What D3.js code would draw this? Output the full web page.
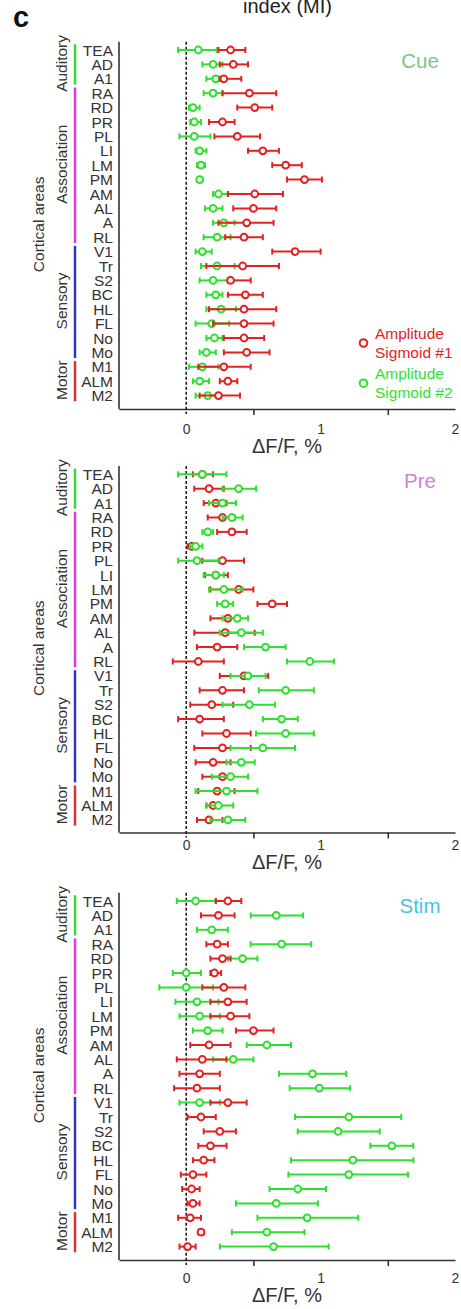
<!DOCTYPE html>
<html>
<head>
<meta charset="utf-8">
<script src="https://cdn.jsdelivr.net/npm/d3@7/dist/d3.min.js"></script>
<style>
  html, body { margin: 0; padding: 0; background: #fff; }
  svg { display: block; font-family: "Liberation Sans", Arial, sans-serif; }
</style>
</head>
<body>
<svg id="chart" width="461" height="1309"></svg>
<script>
// Cortical areas, top to bottom
const areas = ["TEA","AD","A1","RA","RD","PR","PL","LI","LM","PM","AM","AL","A","RL",
               "V1","Tr","S2","BC","HL","FL","No","Mo","M1","ALM","M2"];

// Functional groups of areas
const groupNames  = ["Auditory","Association","Sensory","Motor"];
const groupFirst  = ["TEA","RA","V1","M1"];
const groupLast   = ["A1","RL","Mo","M2"];
const groupColors = ["#35dc35","#e636e6","#3434c4","#d83434"];

const xTicks = [0, 1, 2];
const xMinorTicks = [0.5, 1.5];

// [mean, lower, upper] ΔF/F (%) per area
const cueSig1 = [[0.33,0.24,0.44],[0.35,0.25,0.46],[0.28,0.25,0.41],[0.47,0.27,0.67],[0.51,0.38,0.64],
  [0.27,0.17,0.36],[0.38,0.21,0.55],[0.57,0.46,0.69],[0.74,0.64,0.86],[0.88,0.75,1.01],
  [0.51,0.31,0.72],[0.50,0.35,0.67],[0.45,0.24,0.65],[0.43,0.29,0.57],[0.81,0.64,1.00],
  [0.42,0.15,0.69],[0.33,0.31,0.48],[0.44,0.31,0.57],[0.43,0.17,0.67],[0.43,0.20,0.65],
  [0.43,0.28,0.58],[0.45,0.28,0.62],[0.28,0.09,0.48],[0.31,0.25,0.38],[0.24,0.10,0.40]];
const cueSig2 = [[0.09,-0.06,0.23],[0.20,0.12,0.27],[0.22,0.15,0.29],[0.20,0.13,0.27],[0.05,0.02,0.10],
  [0.06,0.03,0.11],[0.06,-0.05,0.18],[0.10,0.07,0.15],[0.11,0.08,0.14],[0.10,0.09,0.12],
  [0.24,0.20,0.31],[0.20,0.14,0.27],[0.28,0.20,0.36],[0.23,0.13,0.33],[0.12,0.07,0.19],
  [0.23,0.11,0.36],[0.20,0.10,0.31],[0.22,0.15,0.27],[0.26,0.15,0.37],[0.19,0.07,0.32],
  [0.21,0.15,0.27],[0.15,0.10,0.22],[0.12,0.02,0.24],[0.10,0.05,0.17],[0.16,0.07,0.23]];

const preSig1 = [[0.12,0.05,0.20],[0.17,0.06,0.28],[0.22,0.13,0.30],[0.27,0.16,0.36],[0.34,0.23,0.45],
  [0.04,0.01,0.07],[0.27,0.12,0.43],[0.22,0.14,0.31],[0.39,0.18,0.50],[0.64,0.53,0.75],
  [0.31,0.18,0.40],[0.29,0.06,0.51],[0.23,0.08,0.38],[0.09,-0.10,0.28],[0.43,0.25,0.61],
  [0.27,0.10,0.43],[0.19,0.03,0.35],[0.10,-0.06,0.28],[0.30,0.12,0.48],[0.27,0.06,0.48],
  [0.20,0.07,0.33],[0.27,0.12,0.33],[0.23,0.09,0.36],[0.20,0.15,0.23],[0.17,0.08,0.27]];
const preSig2 = [[0.12,-0.06,0.30],[0.39,0.27,0.52],[0.27,0.17,0.37],[0.34,0.27,0.42],[0.16,0.12,0.20],
  [0.07,0.03,0.12],[0.08,-0.06,0.24],[0.22,0.13,0.28],[0.28,0.17,0.42],[0.29,0.23,0.35],
  [0.38,0.27,0.46],[0.41,0.25,0.57],[0.59,0.43,0.74],[0.92,0.75,1.10],[0.46,0.33,0.59],
  [0.74,0.54,0.95],[0.47,0.27,0.66],[0.71,0.57,0.83],[0.74,0.52,0.95],[0.57,0.33,0.81],
  [0.41,0.30,0.51],[0.33,0.19,0.46],[0.30,0.07,0.53],[0.24,0.15,0.35],[0.31,0.18,0.44]];

const stimSig1 = [[0.31,0.22,0.41],[0.24,0.11,0.36],null,[0.23,0.15,0.31],[0.27,0.18,0.33],
  [0.21,0.18,0.26],[0.28,0.12,0.44],[0.31,0.18,0.45],[0.33,0.18,0.47],[0.50,0.37,0.65],
  [0.17,0.03,0.33],[0.12,-0.07,0.30],[0.10,-0.05,0.25],[0.08,-0.09,0.25],[0.31,0.18,0.45],
  [0.11,0.01,0.22],[0.25,0.13,0.37],[0.18,0.09,0.30],[0.13,0.05,0.21],[0.05,-0.04,0.15],
  [0.04,-0.03,0.10],[0.05,0.01,0.10],[0.03,-0.06,0.11],[0.11,0.09,0.13],[0.01,-0.05,0.07]];
const stimSig2 = [[0.07,-0.07,0.22],[0.67,0.48,0.87],[0.19,0.08,0.31],[0.71,0.48,0.93],[0.42,0.31,0.53],
  [0.00,-0.10,0.11],[0.00,-0.20,0.20],[0.08,-0.08,0.24],[0.10,-0.05,0.25],[0.16,0.05,0.27],
  [0.60,0.45,0.78],[0.35,0.20,0.50],[0.94,0.69,1.19],[0.99,0.77,1.22],[0.10,-0.05,0.25],
  [1.21,0.81,1.60],[1.13,0.83,1.44],[1.53,1.37,1.69],[1.24,0.78,1.69],[1.21,0.76,1.65],
  [0.83,0.62,1.04],[0.67,0.37,0.98],[0.90,0.53,1.28],[0.60,0.34,0.88],[0.65,0.25,1.06]];

const red = "#e22222";
const green = "#30df30";
const axisColor = "#333";

// Panel layout: row of first area, axis position, label baselines
const panels = [
  { title: "Cue",  titleColor: "#7cc67c", s1: cueSig1,  s2: cueSig2,  top: 50,    axisY: 409,   tickBase: 433.5, xTitleBase: 452.5, titleBase: 67.7,  redOnTop: true,  legend: true },
  { title: "Pre",  titleColor: "#d47fd4", s1: preSig1,  s2: preSig2,  top: 474.3, axisY: 832.5, tickBase: 850,   xTitleBase: 868.5, titleBase: 488.3, redOnTop: false, legend: false },
  { title: "Stim", titleColor: "#4cbfe0", s1: stimSig1, s2: stimSig2, top: 901,   axisY: 1260,  tickBase: 1283,  xTitleBase: 1302,  titleBase: 913.3, redOnTop: true,  legend: false }
];

const svg = d3.select("#chart");
svg.append("rect").attr("width", 461).attr("height", 1309).attr("fill", "#fff");

const x = d3.scaleLinear().domain([-0.5, 2]).range([119, 455]);
const rowStep = 14.4;

// Figure header
svg.append("text").attr("x", 287.5).attr("y", 13).attr("text-anchor", "middle")
  .attr("font-size", 20).attr("fill", "#222").text("index (MI)");
svg.append("text").attr("x", 13).attr("y", 27).attr("font-size", 29).attr("font-weight", "bold")
  .attr("fill", "#111").text("c");

panels.forEach(p => {
  const y = d3.scalePoint().domain(areas).range([p.top, p.top + rowStep * (areas.length - 1)]);
  const g = svg.append("g");
  const yTop = p.top - 8.3;

  // Area labels
  g.append("g").selectAll("text").data(areas).join("text")
    .attr("x", 113).attr("y", d => y(d)).attr("dy", "0.36em")
    .attr("text-anchor", "end").attr("font-size", 15.5).attr("fill", "#333")
    .text(d => d);

  // Group bars and labels
  groupNames.forEach((name, i) => {
    const y0 = Math.max(yTop, y(groupFirst[i]) - rowStep / 2 + 1.5);
    const y1 = y(groupLast[i]) + rowStep / 2 - 1.5;
    g.append("line").attr("x1", 75).attr("x2", 75).attr("y1", y0).attr("y2", y1)
      .attr("stroke", groupColors[i]).attr("stroke-width", 2.5);
    const cy = (y(groupFirst[i]) + y(groupLast[i])) / 2 - 1;
    g.append("text").attr("transform", `translate(67,${cy}) rotate(-90)`)
      .attr("text-anchor", "middle").attr("font-size", 15.5).attr("fill", "#333").text(name);
  });

  g.append("text").attr("transform", `translate(44,${(yTop + p.axisY) / 2 - 1}) rotate(-90)`)
    .attr("text-anchor", "middle").attr("font-size", 15.5).attr("fill", "#333").text("Cortical areas");

  // Axes
  g.append("line").attr("x1", x.range()[0]).attr("x2", x.range()[0])
    .attr("y1", yTop).attr("y2", p.axisY).attr("stroke", axisColor).attr("stroke-width", 1.6);

  const minor = g.append("g").attr("transform", `translate(0,${p.axisY})`)
    .call(d3.axisBottom(x).tickValues(xMinorTicks).tickSize(6).tickSizeOuter(0).tickFormat(""));
  minor.select(".domain").attr("stroke", axisColor).attr("stroke-width", 1.6);
  minor.selectAll(".tick line").attr("stroke", axisColor).attr("stroke-width", 1.6);

  const major = g.append("g").attr("transform", `translate(0,${p.axisY})`)
    .call(d3.axisBottom(x).tickValues(xTicks).tickSize(0).tickPadding(0).tickFormat(d3.format("d")));
  major.select(".domain").remove();
  major.selectAll(".tick text").attr("y", p.tickBase - p.axisY).attr("dy", null)
    .attr("font-size", 14).attr("font-family", "Liberation Sans, Arial, sans-serif").attr("fill", "#333");

  g.append("text").attr("x", (x.range()[0] + x.range()[1]) / 2).attr("y", p.xTitleBase)
    .attr("text-anchor", "middle").attr("font-size", 20).attr("fill", "#333").text("ΔF/F, %");

  // Zero reference
  g.append("line").attr("x1", x(0)).attr("x2", x(0)).attr("y1", yTop).attr("y2", p.axisY + 5)
    .attr("stroke", "#111").attr("stroke-width", 1.5).attr("stroke-dasharray", "3,2");

  // Panel title
  g.append("text").attr("x", 420).attr("y", p.titleBase).attr("text-anchor", "middle")
    .attr("font-size", 20.5).attr("fill", p.titleColor).text(p.title);

  // Error bars with open-circle means
  function drawSeries(vals, color) {
    const rows = areas.map((a, i) => ({ area: a, v: vals[i] })).filter(d => d.v);
    const s = g.append("g").attr("stroke", color).attr("stroke-width", 2).attr("fill", "none");
    s.selectAll("line.bar").data(rows).join("line").attr("class", "bar")
      .attr("x1", d => x(d.v[1])).attr("x2", d => x(d.v[2]))
      .attr("y1", d => y(d.area)).attr("y2", d => y(d.area));
    s.selectAll("line.lo").data(rows).join("line").attr("class", "lo")
      .attr("x1", d => x(d.v[1])).attr("x2", d => x(d.v[1]))
      .attr("y1", d => y(d.area) - 3).attr("y2", d => y(d.area) + 3);
    s.selectAll("line.hi").data(rows).join("line").attr("class", "hi")
      .attr("x1", d => x(d.v[2])).attr("x2", d => x(d.v[2]))
      .attr("y1", d => y(d.area) - 3).attr("y2", d => y(d.area) + 3);
    s.selectAll("circle").data(rows).join("circle")
      .attr("cx", d => x(d.v[0])).attr("cy", d => y(d.area)).attr("r", 3.4)
      .attr("fill", "#fff");
  }
  if (p.redOnTop) { drawSeries(p.s2, green); drawSeries(p.s1, red); }
  else { drawSeries(p.s1, red); drawSeries(p.s2, green); }

  // Legend
  if (p.legend) {
    const items = [
      { lines: ["Amplitude", "Sigmoid #1"], color: red, cy: y("No") + 5 },
      { lines: ["Amplitude", "Sigmoid #2"], color: green, cy: y("ALM") + 2 }
    ];
    items.forEach(it => {
      g.append("circle").attr("cx", 363.5).attr("cy", it.cy).attr("r", 3.8)
        .attr("fill", "#fff").attr("stroke", it.color).attr("stroke-width", 2);
      it.lines.forEach((t, k) => {
        g.append("text").attr("x", 375).attr("y", it.cy - 4.5 + k * 19)
          .attr("font-size", 15.5).attr("fill", it.color).text(t);
      });
    });
  }
});
</script>
</body>
</html>
